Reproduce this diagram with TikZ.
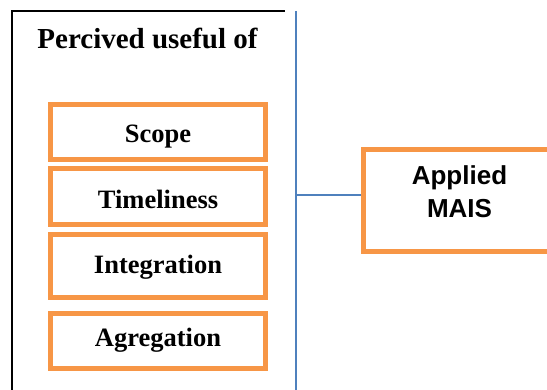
\documentclass[tikz,border=0pt]{standalone}
\usepackage{fontspec}
\setmainfont{Liberation Serif}
\newfontfamily\arialfont{Liberation Sans}
\definecolor{boxorange}{HTML}{F79646}
\definecolor{lineblue}{HTML}{4F81BD}
\begin{document}
\begin{tikzpicture}[x=1pt,y=-1pt,
  itembox/.style={draw=boxorange, line width=5pt, minimum width=215pt,
    inner sep=0pt, text depth=0pt,
    font=\fontsize{26.5}{30}\selectfont\bfseries},
  maisbox/.style={draw=boxorange, line width=5pt, minimum width=200pt,
    minimum height=102pt, inner sep=0pt},
  maistext/.style={align=center, inner sep=0pt,
    font=\arialfont\bfseries\fontsize{26}{33}\selectfont},
  titletext/.style={anchor=base, inner sep=0pt,
    font=\fontsize{29}{32}\selectfont\bfseries},
  frameline/.style={draw=black, line width=2pt},
  busline/.style={draw=lineblue, line width=2pt}]
\useasboundingbox (0,0) rectangle (547,390);
\clip (0,0) rectangle (547,390);

% frame of the left group
\coordinate (fbl) at (12.3,400);
\coordinate (ftl) at (12.3,11);
\coordinate (ftr) at (285,11);
\coordinate (btop) at (295.5,11);
\coordinate (bbot) at (295.5,400);
\draw[frameline] (fbl) -- (ftl) -- (ftr);
\draw[busline] (btop) -- (bbot);

\node[titletext] (title) at (147.5,48.3) {Percived useful of};

\node[itembox, minimum height=55pt, text height=22pt] (scope) at (158,131.7) {Scope};
\node[itembox, minimum height=55.7pt, text height=24pt] (time) at (158,196.3) {Timeliness};
\node[itembox, minimum height=63pt, text height=14pt] (integ) at (158,266.2) {Integration};
\node[itembox, minimum height=55pt, text height=12pt] (agreg) at (158,340.7) {Agregation};

\node[maisbox] (mais) at (463.5,200.5) {};
\node[maistext] (maislabel) at (459.5,192) {Applied\\MAIS};

\coordinate (bus) at (295.5,195);
\draw[busline, line width=1.5pt] (bus) -- (bus -| mais.west);
\end{tikzpicture}
\end{document}
